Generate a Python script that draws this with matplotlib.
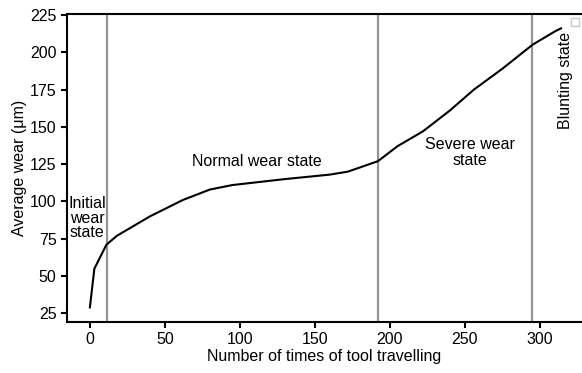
import matplotlib
matplotlib.use("Agg")
import matplotlib.pyplot as plt
from matplotlib.patches import Rectangle

plt.rcParams["font.family"] = ["Liberation Sans", "DejaVu Sans"]

# curva de desgaste medio
travel = [0, 3, 11, 18, 40, 62, 80, 95, 130, 160, 172, 192, 205, 222, 240, 256, 275, 295, 310, 314]
wear = [29, 55, 71, 77, 90, 101, 108, 111, 115, 118, 120, 127, 137, 147, 161, 175, 189, 205, 214, 216]

# limites entre os estados
limites = [11.5, 192, 295]
estados = ["Initial\nwear\nstate", "Normal wear state", "Severe wear\nstate", "Blunting state"]

fs = 11.5
fig = plt.figure(figsize=(5.82, 3.73), dpi=100)
ax = fig.add_axes([0.115, 0.137, 0.885, 0.825])

for xv in limites:
    ax.axvline(xv, color="#939393", lw=1.6, zorder=1)
ax.plot(travel, wear, color="black", lw=1.5, zorder=2)

ax.text(-2, 88.7, estados[0], ha="center", va="center", fontsize=fs, linespacing=0.95)
ax.text(111.5, 126.5, estados[1], ha="center", va="center", fontsize=fs)
ax.text(253, 133, estados[2], ha="center", va="center", fontsize=fs, linespacing=1.05)
ax.text(317, 181, estados[3], ha="center", va="center", fontsize=fs, rotation=90)

ax.set_xlim(-15.3, 328)
ax.set_ylim(19.3, 225.5)
ax.set_xticks(range(0, 301, 50))
ax.set_yticks(range(25, 226, 25))
ax.set_xlabel("Number of times of tool travelling", fontsize=fs, labelpad=1)
ax.set_ylabel("Average wear (\u03bcm)", fontsize=fs, labelpad=2)
ax.tick_params(labelsize=fs, width=1.5, length=4)
for s in ["left", "bottom", "top"]:
    ax.spines[s].set_linewidth(1.5)
ax.spines["right"].set_visible(False)

# caixinha de legenda vazia no canto
fig.patches.append(Rectangle((571 / 582, 1 - 26 / 373), 8 / 582, 8 / 373,
                             transform=fig.transFigure, fill=False,
                             edgecolor="#c8c8c8", lw=1.0))

fig.savefig("out.png", dpi=100)
